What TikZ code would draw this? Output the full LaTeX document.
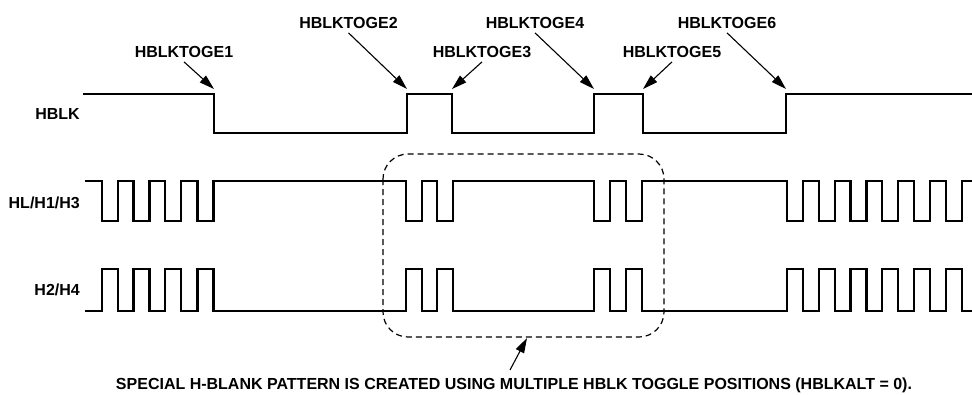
\documentclass[tikz,border=0pt]{standalone}
\usepackage{fontspec}
\setmainfont{Liberation Sans}
\usetikzlibrary{arrows.meta}
\begin{document}
\begin{tikzpicture}[x=1pt,y=-1pt,
  sig/.style={line width=2.5pt, line join=miter},
  lbl/.style={font=\bfseries\fontsize{16}{18}\selectfont, inner sep=0pt},
  rowlbl/.style={lbl, anchor=east},
  arr/.style={line width=1.1pt, -{Triangle[length=15pt,width=9pt]}},
  blob/.style={dash pattern=on 6pt off 4pt, line width=1.2pt, rounded corners=25pt}]
\useasboundingbox (0,0) rectangle (972,394);

% row labels
\node[rowlbl] (rHBLK) at (80,114) {HBLK};
\node[rowlbl] (rHL) at (80,203) {HL/H1/H3};
\node[rowlbl] (rH2) at (80,290) {H2/H4};

% HBLK waveform
\draw[sig] (83,94) -- (214,94) -- (214,133) -- (407,133) -- (407,94) -- (452,94) -- (452,133)
  -- (594,133) -- (594,94) -- (643,94) -- (643,133) -- (786,133) -- (786,94) -- (972,94);

% HL/H1/H3 waveform
\draw[sig] (85,181) foreach \s in {102,133.5,165,197.5,406,437,594,626,787,819,850.5,882,914,946}
  { -- (\s,181) -- (\s,221) -- ({\s+16},221) -- ({\s+16},181) } -- (972,181);

% H2/H4 waveform
\draw[sig] (85,311) foreach \s in {102,133.5,165,197.5,406,437,594,626,787,819,850.5,882,914,946}
  { -- (\s,311) -- (\s,269) -- ({\s+16},269) -- ({\s+16},311) } -- (972,311);

% toggle labels
\node[lbl] (l1) at (184,52) {HBLKTOGE1};
\node[lbl] (l2) at (348.5,23) {HBLKTOGE2};
\node[lbl] (l3) at (482,52) {HBLKTOGE3};
\node[lbl] (l4) at (535,23) {HBLKTOGE4};
\node[lbl] (l5) at (672,52) {HBLKTOGE5};
\node[lbl] (l6) at (727,23) {HBLKTOGE6};

\coordinate (t1) at (214,89);
\coordinate (t2) at (407,89);
\coordinate (t3) at (452,89);
\coordinate (t4) at (594,89);
\coordinate (t5) at (643,89);
\coordinate (t6) at (786,89);

\draw[arr] ([yshift=-4pt]l1.south) -- (t1);
\draw[arr] ([yshift=-4pt]l2.south) -- (t2);
\draw[arr] ([yshift=-4pt]l3.south) -- (t3);
\draw[arr] ([yshift=-4pt]l4.south) -- (t4);
\draw[arr] ([yshift=-4pt]l5.south) -- (t5);
\draw[arr] ([yshift=-4pt]l6.south) -- (t6);

% dashed region
\draw[blob] (383,154) rectangle (664,337);

% note
\node[lbl] (note) at (514,385) {SPECIAL H-BLANK PATTERN IS CREATED USING MULTIPLE HBLK TOGGLE POSITIONS (HBLKALT = 0).};
\coordinate (na) at (510,370);
\coordinate (nb) at (527,338);
\draw[arr] (na) -- (nb);
\end{tikzpicture}
\end{document}
